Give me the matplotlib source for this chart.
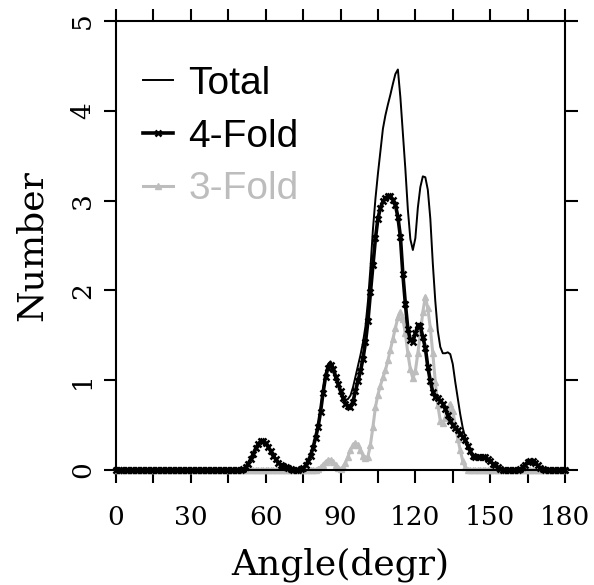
import numpy as np
import matplotlib

matplotlib.use("Agg")
import matplotlib.pyplot as plt
from matplotlib.ticker import MultipleLocator

# bond-angle distribution, one value per degree (0..180)
angle = np.arange(0, 181)

total = [
    0, 0, 0, 0, 0, 0, 0, 0, 0, 0,
    0, 0, 0, 0, 0, 0, 0, 0, 0, 0,
    0, 0, 0, 0, 0, 0, 0, 0, 0, 0,
    0, 0, 0, 0, 0, 0, 0, 0, 0, 0,
    0, 0, 0, 0, 0, 0, 0, 0, 0, 0,
    0, 0.01, 0.03, 0.07, 0.12, 0.18, 0.24, 0.29, 0.32, 0.32,
    0.30, 0.26, 0.21, 0.16, 0.12, 0.08, 0.06, 0.04, 0.03, 0.02,
    0.01, 0, 0, 0, 0.01, 0.02, 0.05, 0.10, 0.16, 0.25,
    0.36, 0.49, 0.67, 0.90, 1.07, 1.18, 1.21, 1.16, 1.07, 0.98,
    0.89, 0.82, 0.78, 0.79, 0.83, 0.92, 1.04, 1.16, 1.28, 1.42,
    1.60, 1.88, 2.25, 2.68, 3.02, 3.30, 3.55, 3.80, 3.95, 4.07,
    4.18, 4.30, 4.41, 4.46, 4.15, 3.75, 3.35, 2.90, 2.57, 2.45,
    2.58, 2.92, 3.15, 3.27, 3.26, 3.12, 2.80, 2.30, 1.88, 1.55,
    1.37, 1.30, 1.30, 1.31, 1.29, 1.18, 0.98, 0.80, 0.62, 0.47,
    0.36, 0.27, 0.21, 0.16, 0.15, 0.15, 0.15, 0.15, 0.14, 0.12,
    0.10, 0.07, 0.05, 0.03, 0.01, 0, 0, 0, 0, 0,
    0, 0, 0.01, 0.03, 0.06, 0.09, 0.10, 0.10, 0.08, 0.05,
    0.02, 0.01, 0, 0, 0, 0, 0, 0, 0, 0,
    0,
]

four_fold = [
    0, 0, 0, 0, 0, 0, 0, 0, 0, 0,
    0, 0, 0, 0, 0, 0, 0, 0, 0, 0,
    0, 0, 0, 0, 0, 0, 0, 0, 0, 0,
    0, 0, 0, 0, 0, 0, 0, 0, 0, 0,
    0, 0, 0, 0, 0, 0, 0, 0, 0, 0,
    0, 0.01, 0.03, 0.07, 0.12, 0.18, 0.24, 0.29, 0.32, 0.32,
    0.30, 0.26, 0.21, 0.16, 0.12, 0.08, 0.06, 0.04, 0.03, 0.02,
    0.01, 0, 0, 0, 0.01, 0.02, 0.05, 0.10, 0.16, 0.25,
    0.36, 0.48, 0.65, 0.86, 1.04, 1.14, 1.17, 1.12, 1.04, 0.96,
    0.88, 0.80, 0.74, 0.71, 0.70, 0.76, 0.88, 0.99, 1.10, 1.24,
    1.42, 1.66, 1.98, 2.28, 2.58, 2.80, 2.92, 2.99, 3.03, 3.05,
    3.05, 3.01, 2.95, 2.82, 2.60, 2.18, 1.85, 1.57, 1.45, 1.43,
    1.52, 1.61, 1.60, 1.48, 1.36, 1.15, 0.99, 0.87, 0.81, 0.80,
    0.77, 0.74, 0.68, 0.61, 0.55, 0.50, 0.47, 0.44, 0.40, 0.37,
    0.33, 0.27, 0.21, 0.16, 0.15, 0.15, 0.15, 0.15, 0.14, 0.12,
    0.10, 0.07, 0.05, 0.03, 0.01, 0, 0, 0, 0, 0,
    0, 0, 0.01, 0.03, 0.06, 0.09, 0.10, 0.10, 0.08, 0.05,
    0.02, 0.01, 0, 0, 0, 0, 0, 0, 0, 0,
    0,
]

three_fold = [
    0, 0, 0, 0, 0, 0, 0, 0, 0, 0,
    0, 0, 0, 0, 0, 0, 0, 0, 0, 0,
    0, 0, 0, 0, 0, 0, 0, 0, 0, 0,
    0, 0, 0, 0, 0, 0, 0, 0, 0, 0,
    0, 0, 0, 0, 0, 0, 0, 0, 0, 0,
    0, 0, 0, 0, 0, 0, 0, 0, 0, 0,
    0, 0, 0, 0, 0, 0, 0, 0, 0, 0,
    0, 0, 0, 0, 0, 0, 0, 0, 0, 0,
    0, 0.01, 0.03, 0.06, 0.09, 0.11, 0.11, 0.09, 0.05, 0.02,
    0.01, 0.03, 0.08, 0.15, 0.22, 0.28, 0.30, 0.28, 0.22, 0.16,
    0.13, 0.15, 0.28, 0.48, 0.70, 0.84, 0.94, 1.03, 1.11, 1.22,
    1.34, 1.46, 1.58, 1.70, 1.76, 1.68, 1.52, 1.30, 1.12, 1.02,
    1.10, 1.30, 1.52, 1.76, 1.93, 1.80, 1.58, 1.30, 0.98, 0.72,
    0.55, 0.52, 0.58, 0.68, 0.74, 0.66, 0.50, 0.35, 0.22, 0.10,
    0.03, 0, 0, 0, 0, 0, 0, 0, 0, 0,
    0, 0, 0, 0, 0, 0, 0, 0, 0, 0,
    0, 0, 0, 0, 0, 0, 0, 0, 0, 0,
    0, 0, 0, 0, 0, 0, 0, 0, 0, 0,
    0,
]

x_ticks = [0, 30, 60, 90, 120, 150, 180]
y_ticks = [0, 1, 2, 3, 4, 5]

GREY = "#bdbdbd"
SERIF = "DejaVu Serif"

fig = plt.figure(figsize=(5.94, 5.85), dpi=100)
ax = fig.add_axes([0.1953, 0.1966, 0.7559, 0.7675])

ax.plot(angle, total, color="black", linewidth=1.4, label="Total", clip_on=False)
ax.plot(angle, three_fold, color=GREY, linewidth=2.2, marker="^",
        markersize=4, label="3-Fold", clip_on=False)
ax.plot(angle, four_fold, color="black", linewidth=2.6, marker="x",
        markersize=4.5, markeredgewidth=1.8, label="4-Fold", clip_on=False)

ax.set_xlim(0, 180)
ax.set_ylim(0, 5)
ax.set_xticks(x_ticks)
ax.set_yticks(y_ticks)
ax.xaxis.set_minor_locator(MultipleLocator(15))

for side in ax.spines.values():
    side.set_linewidth(1.5)
ax.tick_params(which="both", direction="out", length=9, width=1.5,
               top=True, right=True, labelsize=19)
ax.tick_params(axis="x", pad=16)
ax.tick_params(axis="y", pad=6)
for lab in ax.get_xticklabels() + ax.get_yticklabels():
    lab.set_family(SERIF)
for lab in ax.get_yticklabels():
    lab.set_rotation(90)
    lab.set_va("center")

ax.set_xlabel("Angle(degr)", fontsize=26, family=SERIF, va="center")
ax.set_ylabel("Number", fontsize=26, family=SERIF, va="center")
ax.xaxis.set_label_coords(0.5, -0.212)
ax.yaxis.set_label_coords(-0.187, 0.5)

handles, labels = ax.get_legend_handles_labels()
order = [0, 2, 1]
leg = ax.legend([handles[i] for i in order], [labels[i] for i in order],
                loc="upper left", bbox_to_anchor=(0.06, 0.90),
                frameon=False, borderpad=0, borderaxespad=0,
                handlelength=0.77, handletextpad=0.39, labelspacing=0.43,
                prop={"family": "Liberation Sans", "size": 28})
for txt, col in zip(leg.get_texts(), ["black", "black", GREY]):
    txt.set_color(col)

fig.savefig("out.png", dpi=100)
